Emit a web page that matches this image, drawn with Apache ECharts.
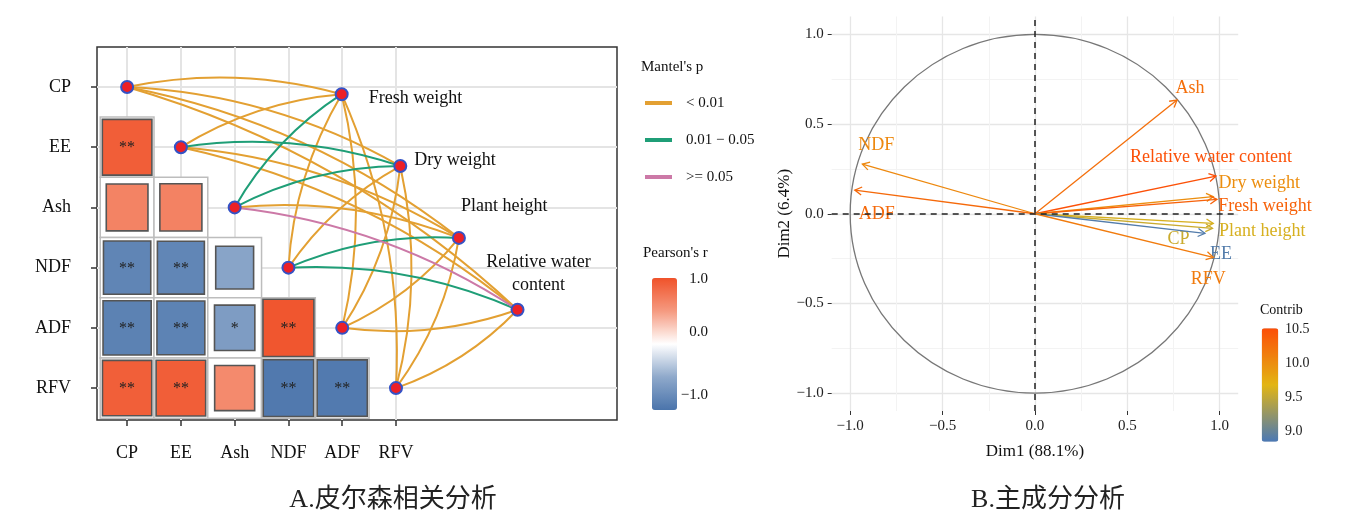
<!DOCTYPE html>
<html><head><meta charset="utf-8">
<script src="https://cdn.jsdelivr.net/npm/echarts@6/dist/echarts.min.js"></script>
<style>html,body{margin:0;padding:0;background:#fff}#c{width:1371px;height:529px}</style>
</head><body><div id="c"></div>
<script>
// ================= DATA =================
const traits = ['CP', 'EE', 'Ash', 'NDF', 'ADF', 'RFV'];
// lower triangle of Pearson's r: row i against columns 0..i-1
const pearsonR = [
  [],
  [0.92],
  [0.66, 0.67],
  [-0.84, -0.83, -0.55],
  [-0.87, -0.86, -0.62, 0.97],
  [0.91, 0.92, 0.61, -0.95, -0.94]
];
const pearsonSig = [
  [],
  ['**'],
  ['', ''],
  ['**', '**', ''],
  ['**', '**', '*', '**'],
  ['**', '**', '', '**', '**']
];
const envNames = ['Fresh weight', 'Dry weight', 'Plant height', 'Relative water\ncontent'];
// Mantel's p class, env (rows) x trait (cols): 0 = <0.01, 1 = 0.01-0.05, 2 = >=0.05
const mantelClass = [
  [0, 0, 1, 0, 0, 0],
  [0, 1, 1, 0, 0, 0],
  [0, 0, 0, 1, 0, 0],
  [0, 0, 2, 1, 0, 0]
];
const mantelLevels = ['< 0.01', '0.01 \u2212 0.05', '>= 0.05'];
const pearsonTickLabels = ['1.0', '0.0', '\u22121.0'];

const pcaVars = ['Ash', 'NDF', 'ADF', 'Relative water content', 'Dry weight', 'Fresh weight', 'Plant height', 'CP', 'EE', 'RFV'];
const pcaDim1 = [0.769, -0.934, -0.975, 0.98, 0.965, 0.985, 0.965, 0.961, 0.92, 0.965];
const pcaDim2 = [0.634, 0.277, 0.132, 0.21, 0.095, 0.080, -0.054, -0.081, -0.109, -0.243];
const pcaContrib = [10.25, 10.05, 10.3, 10.5, 10.0, 10.35, 9.62, 9.55, 8.9, 10.15];
const contribTicks = [10.5, 10.0, 9.5, 9.0];
const pcaAxisTicks = [-1, -0.5, 0, 0.5, 1];
const pcaMinorBreaks = [-0.75, -0.25, 0.25, 0.75];

// ================= LAYOUT / STYLE =================
const SERIF = '"Liberation Serif", "Times New Roman", serif';
const CJK = '"Liberation Serif", "Noto Sans CJK SC", serif';
const mantelColors = ['#E3A032', '#1f9e77', '#cc79a7'];
const pearsonColors = ['#4a74ab', '#8fa9cb', '#ffffff', '#f59a80', '#f0522a'];
const contribColors = ['#4a78b5', '#E2B514', '#FC4E07'];
const contribRange = [8.85, 10.515];
const envLayout = { start: [4.99, 1.12], step: [1.09, 1.193] };
const envLabelOffset = [[28, 5, 'left'], [15, -5, 'left'], [3, -31, 'left'], [22, -35, 'center']];
const pcaLabelOffset = [[13, -12], [14, -19], [22, 24], [-5, -19], [46, -13], [48, 7], [49, 8], [-34, 11], [16, 21], [-5, 22]];
const pearsonTickY = [279, 332, 395];
const cbar = { x: 1261.7, y: 328.3, w: 16.6, h: 113.4 };

// ================= BUILD =================
const cellData = [], cellSig = [];
pearsonR.forEach((row, i) => row.forEach((r, j) => {
  cellData.push([j + 1, i + 1, r]);
  cellSig.push(pearsonSig[i][j]);
}));
const envPos = envNames.map((n, k) => [envLayout.start[0] + k * envLayout.step[0], envLayout.start[1] + k * envLayout.step[1]]);
const linkSeries = mantelLevels.map((lvl, cls) => {
  const data = [];
  mantelClass.forEach((row, e) => row.forEach((c, t) => {
    if (c === cls) data.push({ coords: [[t + 1, t + 1], envPos[e]], lineStyle: { curveness: t < 4 ? 0.12 : -0.12 } });
  }));
  return {
    name: lvl, type: 'lines', coordinateSystem: 'cartesian2d', xAxisIndex: 0, yAxisIndex: 0, z: 3,
    silent: true, lineStyle: { color: mantelColors[cls], width: 2, opacity: 1 }, itemStyle: { color: mantelColors[cls] }, data
  };
});
const nodeData = traits.map((t, i) => ({ value: [i + 1, i + 1] }));
envPos.forEach((p, k) => {
  const o = envLabelOffset[k];
  nodeData.push({
    value: p,
    label: {
      show: true, formatter: envNames[k], position: [6 + o[0], 6 + o[1]], align: o[2], verticalAlign: 'middle',
      fontFamily: SERIF, fontSize: 18, color: '#111', lineHeight: 23
    }
  });
});
const arrowData = pcaVars.map((v, i) => [pcaDim1[i], pcaDim2[i], pcaContrib[i]]);
const fmtNum = v => (Math.abs(v) < 1e-9 ? 0 : v).toFixed(1).replace('-', '\u2212');

function renderCell(params, api) {
  const c = api.coord([api.value(0), api.value(1)]);
  const s = api.size([1, 1]);
  const k = Math.sqrt(Math.abs(api.value(2)));
  const w = s[0] * k, h = s[1] * k;
  return {
    type: 'group', children: [
      { type: 'rect', shape: { x: c[0] - s[0] / 2, y: c[1] - s[1] / 2, width: s[0], height: s[1] }, style: { fill: '#fff', stroke: '#bdbdbd', lineWidth: 1.5 } },
      { type: 'rect', shape: { x: c[0] - w / 2 + 1, y: c[1] - h / 2 + 1, width: w - 2, height: h - 2 }, style: { fill: api.visual('color'), stroke: '#555', lineWidth: 1.6 } },
      { type: 'text', style: { text: cellSig[params.dataIndex], x: c[0], y: c[1] + 1, align: 'center', verticalAlign: 'middle', font: '16px ' + SERIF, fill: '#222' } }
    ]
  };
}
function renderCircle(params, api) {
  const c = api.coord([0, 0]); const s = api.size([1, 1]);
  return { type: 'ellipse', shape: { cx: c[0], cy: c[1], rx: s[0], ry: s[1] }, style: { fill: 'none', stroke: '#777', lineWidth: 1.3 } };
}
function renderArrow(params, api) {
  const o = api.coord([0, 0]); const p = api.coord([api.value(0), api.value(1)]);
  const col = api.visual('color');
  const ang = Math.atan2(p[1] - o[1], p[0] - o[0]);
  const L = 8, a = Math.PI / 6;
  const h1 = [p[0] - L * Math.cos(ang - a), p[1] - L * Math.sin(ang - a)];
  const h2 = [p[0] - L * Math.cos(ang + a), p[1] - L * Math.sin(ang + a)];
  const off = pcaLabelOffset[params.dataIndex];
  return {
    type: 'group', children: [
      { type: 'line', shape: { x1: o[0], y1: o[1], x2: p[0], y2: p[1] }, style: { stroke: col, lineWidth: 1.3 } },
      { type: 'polyline', shape: { points: [h1, p, h2] }, style: { stroke: col, lineWidth: 1.3, fill: 'none' } },
      { type: 'text', style: { text: pcaVars[params.dataIndex], x: p[0] + off[0], y: p[1] + off[1], align: 'center', verticalAlign: 'middle', font: '18px ' + SERIF, fill: col } }
    ]
  };
}

const graphics = [
  { type: 'text', x: 641, y: 67, style: { text: "Mantel's p", font: '15px ' + SERIF, fill: '#111', verticalAlign: 'middle' } },
  { type: 'text', x: 643, y: 253, style: { text: "Pearson's r", font: '15px ' + SERIF, fill: '#111', verticalAlign: 'middle' } },
  { type: 'text', x: 1260, y: 310, style: { text: 'Contrib', font: '14px ' + SERIF, fill: '#111', verticalAlign: 'middle' } },
  { type: 'text', x: 393, y: 500, style: { text: 'A.皮尔森相关分析', font: '26px ' + CJK, fill: '#222', align: 'center', verticalAlign: 'middle' } },
  { type: 'text', x: 1048, y: 500, style: { text: 'B.主成分分析', font: '26px ' + CJK, fill: '#222', align: 'center', verticalAlign: 'middle' } }
];
pearsonTickLabels.forEach((t, i) => graphics.push({ type: 'text', x: 708, y: pearsonTickY[i], style: { text: t, font: '15px ' + SERIF, fill: '#111', align: 'right', verticalAlign: 'middle' } }));
contribTicks.forEach(v => graphics.push({
  type: 'text', x: 1285, y: cbar.y + (contribRange[1] - v) / (contribRange[1] - contribRange[0]) * cbar.h,
  style: { text: v.toFixed(1), font: '14px ' + SERIF, fill: '#222', verticalAlign: 'middle' }
}));

const pcaMajorAxis = (isX) => ({
  gridIndex: 1, type: 'value', min: -1.1, max: 1.1, axisLine: { show: false, onZero: false },
  axisTick: { show: true, customValues: pcaAxisTicks, length: 4, lineStyle: { color: '#333' } },
  axisLabel: { customValues: pcaAxisTicks, formatter: fmtNum, margin: 8, fontFamily: SERIF, fontSize: 15, color: '#222' },
  splitLine: { show: true, lineStyle: { color: '#e6e6e6', width: 1.3 } },
  name: isX ? 'Dim1 (88.1%)' : 'Dim2 (6.4%)', nameLocation: 'middle', nameGap: isX ? 32 : 38,
  nameTextStyle: { fontFamily: SERIF, fontSize: 17, color: '#111' }
});
const pcaMinorAxis = () => ({
  gridIndex: 1, type: 'value', min: -1.1, max: 1.1, axisLine: { show: false, onZero: false },
  axisTick: { show: false, customValues: pcaMinorBreaks }, axisLabel: { show: false, customValues: pcaMinorBreaks },
  splitLine: { show: true, lineStyle: { color: '#f3f3f3', width: 1 } }
});

const chart = echarts.init(document.getElementById('c'), null, { renderer: 'canvas' });
chart.setOption({
  animation: false,
  backgroundColor: '#fff',
  grid: [
    { left: 97, top: 47, width: 520, height: 373, show: true, backgroundColor: '#fff', borderColor: '#333', borderWidth: 1.5 },
    { left: 831.7, top: 16.5, width: 406.5, height: 394.5 }
  ],
  xAxis: [
    {
      gridIndex: 0, type: 'value', min: 0.44, max: 10.11, axisLine: { show: false },
      axisTick: { show: true, customValues: [1, 2, 3, 4, 5, 6], length: 6, lineStyle: { color: '#333', width: 1.5 } },
      axisLabel: { customValues: [1, 2, 3, 4, 5, 6], formatter: v => traits[Math.round(v) - 1] || '', margin: 24, fontFamily: SERIF, fontSize: 18, color: '#111' },
      splitLine: { show: false }
    },
    pcaMajorAxis(true),
    pcaMinorAxis()
  ],
  yAxis: [
    {
      gridIndex: 0, type: 'value', inverse: true, min: 0.336, max: 6.53, axisLine: { show: false },
      axisTick: { show: true, customValues: [1, 2, 3, 4, 5, 6], length: 6, lineStyle: { color: '#333', width: 1.5 } },
      axisLabel: { customValues: [1, 2, 3, 4, 5, 6], formatter: v => traits[Math.round(v) - 1] || '', margin: 26, fontFamily: SERIF, fontSize: 18, color: '#111' },
      splitLine: { show: false }
    },
    pcaMajorAxis(false),
    pcaMinorAxis()
  ],
  visualMap: [
    {
      type: 'continuous', seriesIndex: 0, dimension: 2, min: -1, max: 1, calculable: false, show: true,
      left: 652, top: 278, itemWidth: 25, itemHeight: 132, padding: 0, text: null, textStyle: { color: 'transparent' },
      inRange: { color: pearsonColors }
    },
    {
      type: 'continuous', seriesIndex: 5, dimension: 2, min: contribRange[0], max: contribRange[1], calculable: false, show: true,
      left: cbar.x, top: cbar.y, itemWidth: cbar.w, itemHeight: cbar.h, padding: 0, text: null, textStyle: { color: 'transparent' },
      inRange: { color: contribColors }
    }
  ],
  legend: {
    orient: 'vertical', left: 645, top: 93, padding: 0, itemWidth: 25, itemHeight: 2.2, itemGap: 17, selectedMode: false,
    textStyle: { fontFamily: SERIF, fontSize: 15, color: '#111', lineHeight: 20, padding: [0, 0, 0, 10] },
    data: mantelLevels.map((n, i) => ({ name: n, icon: 'rect', itemStyle: { color: mantelColors[i] } }))
  },
  graphic: graphics,
  series: [
    {
      type: 'custom', xAxisIndex: 0, yAxisIndex: 0, z: 2, silent: true, renderItem: renderCell, data: cellData,
      markLine: {
        silent: true, z: 1, symbol: ['none', 'none'], label: { show: false },
        lineStyle: { color: '#e4e4e4', width: 2, type: 'solid' },
        data: traits.map((t, i) => ({ xAxis: i + 1 })).concat(traits.map((t, i) => ({ yAxis: i + 1 })))
      }
    },
    ...linkSeries,
    {
      type: 'scatter', xAxisIndex: 0, yAxisIndex: 0, z: 4, silent: true, symbolSize: 12,
      itemStyle: { color: '#ec2027', borderColor: '#3452c6', borderWidth: 2, opacity: 1 }, data: nodeData
    },
    {
      type: 'custom', xAxisIndex: 1, yAxisIndex: 1, z: 3, silent: true, renderItem: renderArrow, data: arrowData,
      markLine: {
        silent: true, z: 6, symbol: ['none', 'none'], label: { show: false },
        lineStyle: { color: '#222', width: 1.5, type: [6, 5] },
        data: [{ xAxis: 0 }, { yAxis: 0 }]
      }
    },
    { type: 'custom', xAxisIndex: 1, yAxisIndex: 1, z: 2, silent: true, renderItem: renderCircle, data: [[0, 0]] }
  ]
});
</script></body></html>
